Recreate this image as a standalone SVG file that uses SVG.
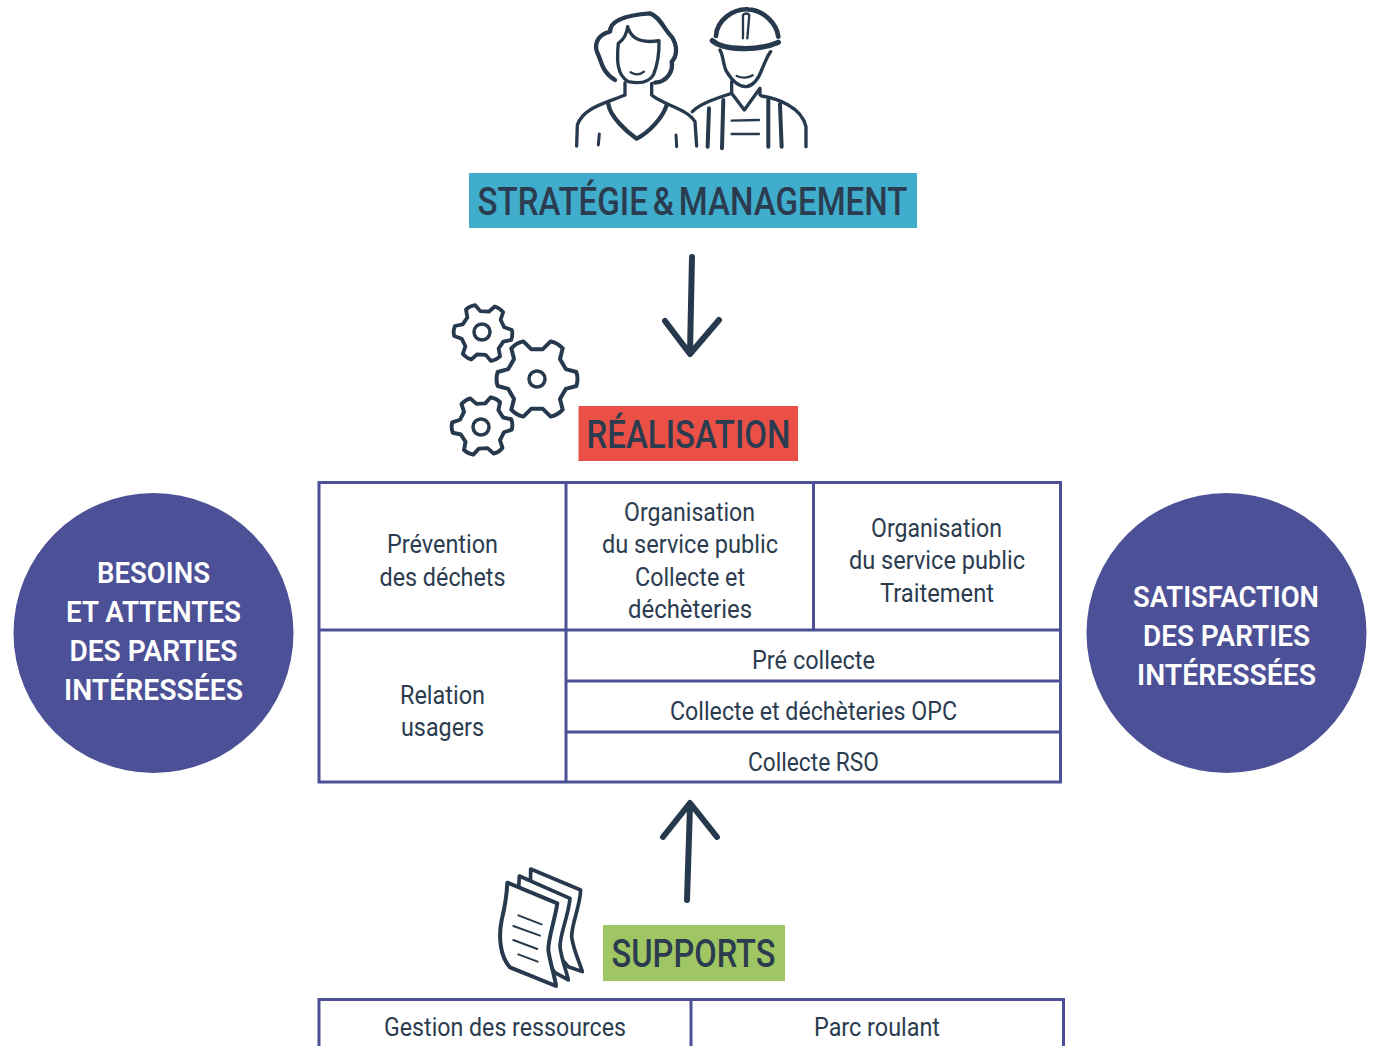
<svg xmlns="http://www.w3.org/2000/svg" width="1373" height="1046" viewBox="0 0 1373 1046">
<style>
text{font-family:Roboto,"Liberation Sans",sans-serif;fill:#2b3c50;text-anchor:middle}
.t{font-size:25px}
.h{font-size:39px;font-weight:500;word-spacing:-4px}
.c{font-size:30px;font-weight:600;fill:#fff}
.g{fill:none;stroke:#4c5096;stroke-width:3}
.i{fill:none;stroke:#27394c;stroke-linecap:round;stroke-linejoin:round}
.a{fill:none;stroke:#27394c;stroke-width:6;stroke-linecap:round;stroke-linejoin:round}
</style>
<defs>
<path id="gear" d="M71.9-24.7 98.5-17.4Q104 0 98.5 17.4L71.9 24.7 57.4 49.9 64.3 76.6Q52 90 34.2 94L14.5 74.6-14.5 74.6-34.2 94Q-52 90-64.3 76.6L-57.4 49.9-71.9 24.7-98.5 17.4Q-104 0-98.5-17.4L-71.9-24.7-57.4-49.9-64.3-76.6Q-52-90-34.2-94L-14.5-74.6 14.5-74.6 34.2-94Q52-90 64.3-76.6L57.4-49.9Z"/>
</defs>
<g id="icon-people" class="i" transform="translate(560 0) scale(.3333)">
<path stroke-width="13" d="M165 240C125 215 125 185 115 165C100 135 110 105 150 95C150 60 200 45 270 40C300 50 310 85 335 110C355 140 350 170 335 185C340 210 325 245 285 248"/>
<path stroke-width="10" d="M175 130C170 180 170 225 205 245C230 250 265 250 280 225C295 190 298 160 297 122C260 128 215 125 203 80C200 105 190 120 175 130"/>
<path stroke-width="7" d="M212 217C225 225 240 225 252 215"/>
<path stroke-width="10" d="M195 248V285C150 305 70 320 52 375L50 438M275 250V285C310 315 380 325 405 365L410 438"/>
<path stroke-width="13" d="M145 312C150 350 200 395 230 416C270 395 310 350 320 315"/>
<path stroke-width="9" d="M118 402 115 435M348 405 350 440"/>
<path stroke-width="14" d="M468 108C470 60 520 25 565 28C610 30 650 70 655 110"/>
<path stroke-width="16" d="M457 122C490 150 590 155 655 127"/>
<path stroke-width="7" d="M549 115V45C555 38 565 40 568 45L562 115"/>
<path stroke-width="10" d="M480 150C490 165 490 200 500 215C515 240 535 262 560 260C585 255 600 225 607 205C615 190 620 170 632 155"/>
<path stroke-width="7" d="M530 228C545 235 565 235 578 226"/>
<path stroke-width="10" d="M515 245V280L553 330 600 265V285M515 280C470 295 420 310 397 335M605 288C650 295 725 320 738 380V440"/>
<path stroke-width="12" d="M447 325 443 440M490 300 486 445M625 300V440M660 312 665 440"/>
<path stroke-width="7" d="M515 362 597 360M515 402H597"/>
</g>
<g id="strategie">
<rect x="469" y="173" width="448" height="55" fill="#41adcc"/>
<text class="h" x="692.500" y="215" textLength="430" lengthAdjust="spacingAndGlyphs">STRATÉGIE &amp; MANAGEMENT</text>
</g>
<g id="icon-gears" class="i">
<use href="#gear" transform="translate(537 379) scale(.4)" stroke-width="10"/>
<circle cx="537" cy="379" r="8" stroke-width="3.500"/>
<use href="#gear" transform="translate(483 333) rotate(4) scale(.29)" stroke-width="13"/>
<circle cx="482" cy="332" r="8" stroke-width="3.500"/>
<use href="#gear" transform="translate(482 426) rotate(-3) scale(.3)" stroke-width="13"/>
<circle cx="481" cy="427" r="8" stroke-width="3.500"/>
</g>
<g id="realisation">
<rect x="578.500" y="406" width="219.500" height="55" fill="#ea5045"/>
<text class="h" x="688.500" y="448" textLength="204" lengthAdjust="spacingAndGlyphs">RÉALISATION</text>
</g>
<g id="besoins">
<circle cx="153.500" cy="633" r="140" fill="#4c5096"/>
<text class="c" x="153.500" y="583" textLength="113" lengthAdjust="spacingAndGlyphs">BESOINS</text>
<text class="c" x="153.500" y="622" textLength="175" lengthAdjust="spacingAndGlyphs">ET ATTENTES</text>
<text class="c" x="153.500" y="661" textLength="168" lengthAdjust="spacingAndGlyphs">DES PARTIES</text>
<text class="c" x="153.500" y="700" textLength="179" lengthAdjust="spacingAndGlyphs">INTÉRESSÉES</text>
</g>
<g id="satisfaction">
<circle cx="1226.500" cy="633" r="140" fill="#4c5096"/>
<text class="c" x="1226" y="607" textLength="186" lengthAdjust="spacingAndGlyphs">SATISFACTION</text>
<text class="c" x="1226.500" y="646" textLength="167" lengthAdjust="spacingAndGlyphs">DES PARTIES</text>
<text class="c" x="1226.500" y="685" textLength="179" lengthAdjust="spacingAndGlyphs">INTÉRESSÉES</text>
</g>
<g id="table-realisation">
<path class="g" d="M319 482.500H1060.500V782H319ZM566 482.500V782M813.500 482.500V630M319 630H1060.500M566 681H1060.500M566 732H1060.500"/>
<text class="t" x="442.500" y="553" textLength="111" lengthAdjust="spacingAndGlyphs">Prévention</text>
<text class="t" x="442.500" y="586" textLength="126" lengthAdjust="spacingAndGlyphs">des déchets</text>
<text class="t" x="689.500" y="521" textLength="131" lengthAdjust="spacingAndGlyphs">Organisation</text>
<text class="t" x="690" y="553" textLength="176" lengthAdjust="spacingAndGlyphs">du service public</text>
<text class="t" x="690" y="586" textLength="110" lengthAdjust="spacingAndGlyphs">Collecte et</text>
<text class="t" x="690" y="618" textLength="124" lengthAdjust="spacingAndGlyphs">déchèteries</text>
<text class="t" x="936.500" y="537" textLength="131" lengthAdjust="spacingAndGlyphs">Organisation</text>
<text class="t" x="937" y="569" textLength="176" lengthAdjust="spacingAndGlyphs">du service public</text>
<text class="t" x="937" y="602" textLength="114" lengthAdjust="spacingAndGlyphs">Traitement</text>
<text class="t" x="442.500" y="704" textLength="85" lengthAdjust="spacingAndGlyphs">Relation</text>
<text class="t" x="442.500" y="736" textLength="83" lengthAdjust="spacingAndGlyphs">usagers</text>
<text class="t" x="813.500" y="669" textLength="123" lengthAdjust="spacingAndGlyphs">Pré collecte</text>
<text class="t" x="813.500" y="720" textLength="287" lengthAdjust="spacingAndGlyphs">Collecte et déchèteries OPC</text>
<text class="t" x="813.500" y="771" textLength="131" lengthAdjust="spacingAndGlyphs">Collecte RSO</text>
</g>
<g id="icon-documents" class="i" transform="translate(480 790) scale(.3333)">
<path fill="#fff" stroke-width="11" d="M152 237 302 300C300 350 275 400 275 440C280 480 300 520 307 545L265 530 150 400Z"/>
<path fill="#fff" stroke-width="11" d="M118 258 270 325C265 380 240 430 240 470C245 510 260 545 265 570L225 548 110 400Z"/>
<path fill="#fff" stroke-width="12" d="M82 278 232 340C225 390 205 440 205 480C210 520 225 560 228 588L90 532C60 500 55 440 65 390C75 350 80 320 82 278Z"/>
<path stroke-width="6" d="M115 376 185 403M100 408 180 437M100 450 172 477M115 493 173 515"/>
</g>
<g id="supports">
<rect x="603" y="925" width="182" height="56" fill="#a0c663"/>
<text class="h" x="693.500" y="967" textLength="164" lengthAdjust="spacingAndGlyphs">SUPPORTS</text>
</g>
<g id="table-supports">
<path class="g" d="M319 1050V999.500H1063.500V1050M691 999.500V1050"/>
<text class="t" x="505" y="1036" textLength="242" lengthAdjust="spacingAndGlyphs">Gestion des ressources</text>
<text class="t" x="877" y="1036" textLength="126" lengthAdjust="spacingAndGlyphs">Parc roulant</text>
</g>
<g id="connectors">
<path class="a" d="M692 257 690 352M665 321 690 354 719 320"/>
<path class="a" d="M687 900 690 806M663 837 690 803 717 837"/>
</g>
</svg>
